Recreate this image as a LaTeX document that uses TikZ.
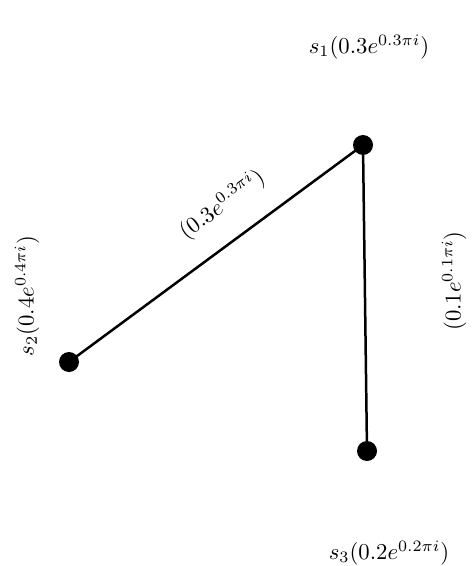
\documentclass[tikz,border=0pt]{standalone}
\begin{document}
\begin{tikzpicture}[x=0.44pt,y=-0.44pt,
  vert/.style={circle,fill=black,inner sep=0pt,minimum size=8.8pt},
  edge/.style={line width=1.1pt},
  lbl/.style={inner sep=0pt}]
\useasboundingbox (0,0) rectangle (473,566);
\node[vert] (s1) at (363,145) {};
\node[vert] (s2) at (69,362) {};
\node[vert] (s3) at (367,451) {};
\draw[edge] (s2.center) -- (s1.center);
\draw[edge] (s1.center) -- (s3.center);
\node[lbl] (l1) at (369,47) {$s_1(0.3e^{0.3\pi i})$};
\node[lbl,rotate=90] (l2) at (27,296) {$s_2(0.4e^{0.4\pi i})$};
\node[lbl] (l3) at (389,553) {$s_3(0.2e^{0.2\pi i})$};
\node[lbl,rotate=36.4] (e12) at (222,205) {$(0.3e^{0.3\pi i})$};
\node[lbl,rotate=90] (e13) at (454,281) {$(0.1e^{0.1\pi i})$};
\end{tikzpicture}
\end{document}
